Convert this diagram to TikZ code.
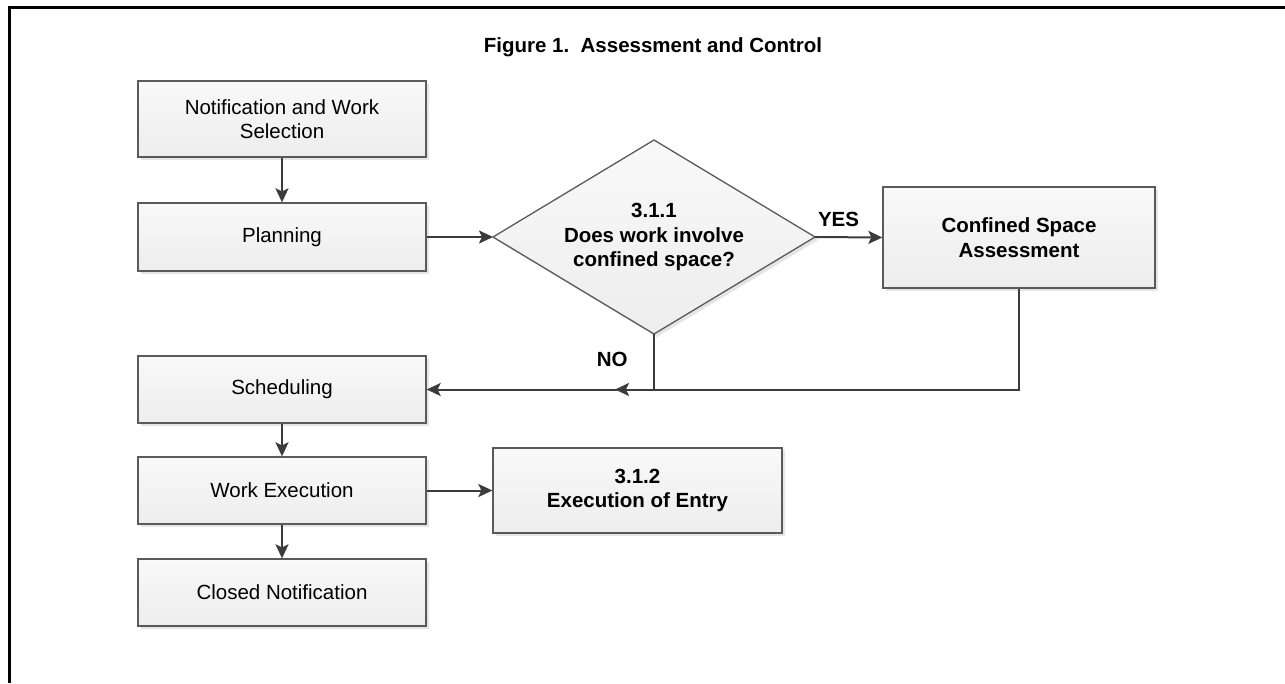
\documentclass[tikz,border=0pt]{standalone}
\usepackage{fontspec}
\setmainfont{Liberation Sans}
\usepackage{tikz}
\usetikzlibrary{arrows.meta,shapes.geometric,shadows}
\usepackage{xcolor}

\definecolor{lineGray}{HTML}{3C3C3C}
\definecolor{edgeGray}{HTML}{5A5A5A}

\begin{document}
\begin{tikzpicture}[
  x=1pt, y=-1pt,
  every node/.style={font=\fontsize{20.5}{24.5}\selectfont},
  box/.style={
    draw=edgeGray,
    line width=1.3pt,
    align=center,
    inner sep=0pt,
    minimum width=288pt,
    minimum height=67pt,
    top color=gray!5,
    bottom color=gray!14,
    drop shadow={shadow xshift=3pt, shadow yshift=-3pt, fill=black!10, opacity=1}
  },
  decision/.style={
    diamond,
    draw=edgeGray,
    line width=1.3pt,
    align=center,
    inner sep=0pt,
    outer sep=0pt,
    aspect=1.66,
    minimum width=322pt,
    minimum height=194pt,
    top color=gray!5,
    bottom color=gray!14,
    drop shadow={shadow xshift=3pt, shadow yshift=-3pt, fill=black!10, opacity=1}
  },
  arrow/.style={
    -{Stealth[length=14pt,width=13pt,inset=3pt]},
    draw=lineGray,
    line width=2pt
  },
  tag/.style={font=\fontsize{20.5}{24.5}\selectfont\bfseries}
]

\useasboundingbox (0,0) rectangle (1285,683);

% ------------------------------------------------
% Frame and title
% ------------------------------------------------
\draw[line width=3pt] (9,683) -- (9,7) -- (1285,7);
\node[tag] (title) at (653,47) {Figure 1.\ \ Assessment and Control};

% ------------------------------------------------
% Main column
% ------------------------------------------------
\node[box, minimum height=76pt] (notif) at (282,119) {Notification and Work\\Selection};
\node[box, minimum height=68pt] (plan)  at (282,237) {Planning};
\node[box] (sched)  at (282,389.5) {Scheduling};
\node[box] (work)   at (282,490.5) {Work Execution};
\node[box] (closed) at (282,592.5) {Closed Notification};

% Decision and side boxes
\node[decision] (confined) at (654,237) {\bfseries 3.1.1\\\bfseries Does work involve\\\bfseries confined space?};
\node[box, minimum width=272pt, minimum height=101pt] (assess) at (1019,237.5) {\bfseries Confined Space\\\bfseries Assessment};
\node[box, minimum width=289pt, minimum height=85pt] (entry) at (637.5,490.5) {\bfseries 3.1.2\\\bfseries Execution of Entry};

% merge point on the return line
\coordinate (merge) at (615,389.5);

% ------------------------------------------------
% Arrows
% ------------------------------------------------
\draw[arrow] (notif.south) -- (plan.north);
\draw[arrow] (plan.east) -- (confined.west);
\draw[arrow] (confined.east) -- node[tag, above, pos=0.35, yshift=6pt]{YES} (assess.west);

% NO branch back to scheduling
\draw[arrow] (confined.south) -- node[tag, left, pos=0.45, xshift=-22pt]{NO} (confined.south |- sched.east) -- (sched.east);
\draw[arrow] (assess.south) |- (merge);

\draw[arrow] (sched.south) -- (work.north);
\draw[arrow] (work.south) -- (closed.north);
\draw[arrow] (work.east) -- (entry.west);

\end{tikzpicture}
\end{document}
